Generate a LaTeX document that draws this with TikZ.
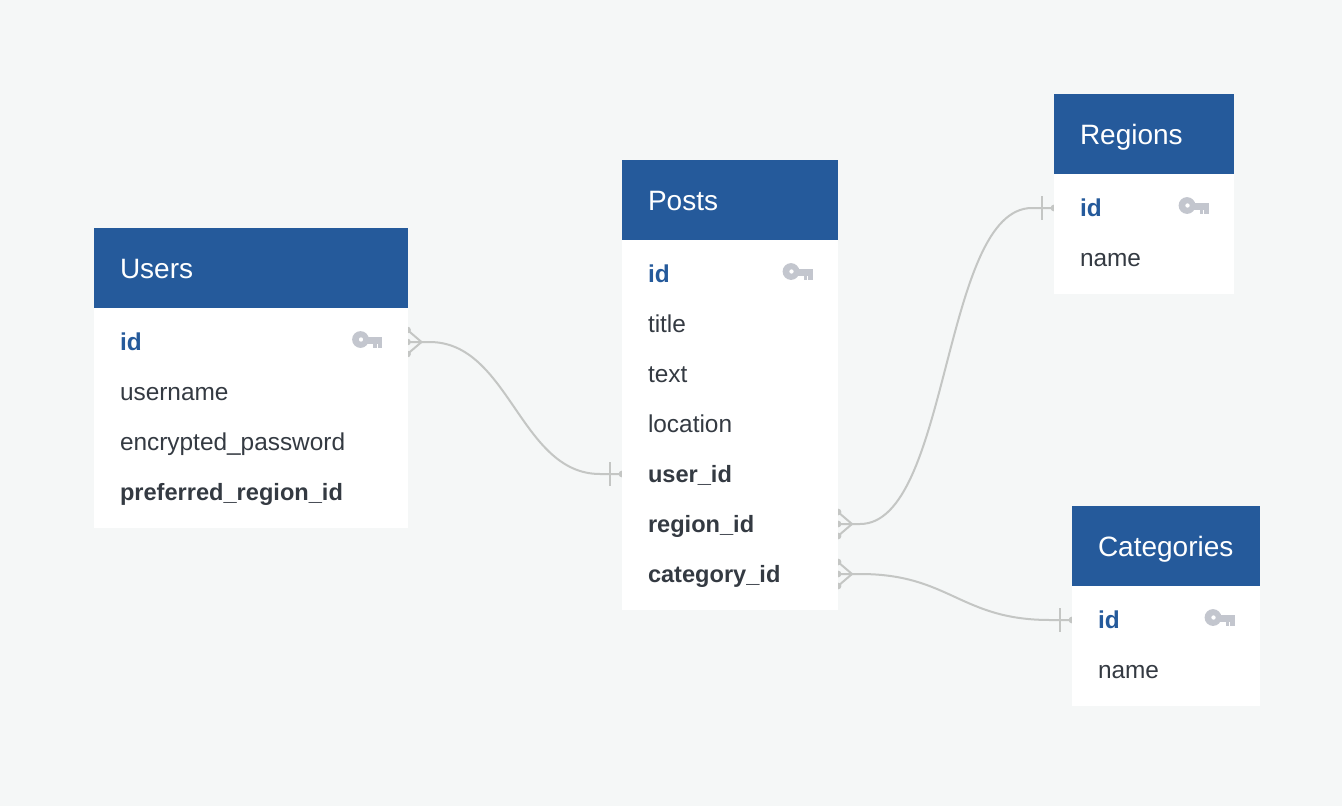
\documentclass[tikz,border=0pt]{standalone}
\usepackage{fontspec}
\setmainfont{Liberation Sans}
\usetikzlibrary{positioning,calc,backgrounds}
\definecolor{pagegrey}{HTML}{F5F7F7}
\definecolor{headblue}{HTML}{255A9B}
\definecolor{fielddark}{HTML}{343A42}
\definecolor{keygrey}{HTML}{C3C6CE}
\definecolor{linegrey}{HTML}{C4C6C4}
\tikzset{
  tablehead/.style={anchor=north west, fill=headblue, text=white, font=\fontsize{28}{30}\selectfont,
    text width=#1pt-52pt, align=left, inner xsep=26pt, inner ysep=0pt, outer sep=0pt,
    text height=50pt, text depth=30pt},
  tablebody/.style={fill=white, inner sep=0pt, outer sep=0pt, minimum height=#1},
  fieldrow/.style={text=fielddark, font=\fontsize{24.4}{26}\selectfont,
    text width=#1pt-52pt, align=left, inner xsep=26pt, inner ysep=0pt, outer sep=0pt,
    text height=33pt, text depth=17pt},
  keyrow/.style={fieldrow=#1, text=headblue, font=\fontsize{24.4}{26}\selectfont\bfseries},
  linkrow/.style={fieldrow=#1, font=\fontsize{23.6}{26}\selectfont\bfseries},
  relation/.style={draw=linegrey, line width=2pt},
  keyicon/.pic={
    \fill[keygrey, even odd rule] (-47,-2.5) circle (8.4pt) (-46.5,-2.5) circle (2.3pt);
    \fill[keygrey] (-44,-5.5) rectangle (-25.5,1.5);
    \fill[keygrey] (-34.5,1) rectangle (-31,6);
    \fill[keygrey] (-30,1) rectangle (-25.5,6);
  },
  crowfoot/.pic={
    \draw[relation] (0,-12) -- (14,0) -- (0,12);
    \fill[linegrey] (0,-12) circle (3.4pt) (0,0) circle (3.4pt) (0,12) circle (3.4pt);
  },
  onebar/.pic={
    \draw[relation] (-12,-12) -- (-12,12);
    \fill[linegrey] (0,0) circle (3.4pt);
  },
}
\begin{document}
\begin{tikzpicture}[x=1pt,y=-1pt]
  \useasboundingbox (0,0) rectangle (1342,806);
  \begin{scope}[on background layer]
    \fill[pagegrey] (0,0) rectangle (1342,806);
  \end{scope}

  % Users
  \node[tablehead=313.5] (usershead) at (94,228) {Users};
  \node[tablebody=220pt, minimum width=313.5pt, below=0pt of usershead] (usersbody) {};
  \node[keyrow=313.5, below=9pt of usershead] (usersid) {id};
  \node[fieldrow=313.5, below=0pt of usersid] (usersname) {username};
  \node[fieldrow=313.5, below=0pt of usersname] (userspass) {encrypted\_password};
  \node[linkrow=313.5, below=0pt of userspass] (usersregion) {preferred\_region\_id};
  \pic at (usersid.east) {keyicon};

  % Posts
  \node[tablehead=216] (postshead) at (622,160) {Posts};
  \node[tablebody=370pt, minimum width=216pt, below=0pt of postshead] (postsbody) {};
  \node[keyrow=216, below=9pt of postshead] (postsid) {id};
  \node[fieldrow=216, below=0pt of postsid] (poststitle) {title};
  \node[fieldrow=216, below=0pt of poststitle] (poststext) {text};
  \node[fieldrow=216, below=0pt of poststext] (postslocation) {location};
  \node[linkrow=216, below=0pt of postslocation] (postsuser) {user\_id};
  \node[linkrow=216, below=0pt of postsuser] (postsregion) {region\_id};
  \node[linkrow=216, below=0pt of postsregion] (postscategory) {category\_id};
  \pic at (postsid.east) {keyicon};

  % Regions
  \node[tablehead=180] (regionshead) at (1054,94) {Regions};
  \node[tablebody=120pt, minimum width=180pt, below=0pt of regionshead] (regionsbody) {};
  \node[keyrow=180, below=9pt of regionshead] (regionsid) {id};
  \node[fieldrow=180, below=0pt of regionsid] (regionsname) {name};
  \pic at (regionsid.east) {keyicon};

  % Categories
  \node[tablehead=188] (categorieshead) at (1072,506) {Categories};
  \node[tablebody=120pt, minimum width=188pt, below=0pt of categorieshead] (categoriesbody) {};
  \node[keyrow=188, below=9pt of categorieshead] (categoriesid) {id};
  \node[fieldrow=188, below=0pt of categoriesid] (categoriesname) {name};
  \pic at (categoriesid.east) {keyicon};

  % Relations
  \begin{scope}[on background layer]
    \draw[relation] (usersid.east) -- ++(22,0) .. controls +(80,0) and +(-80,0) .. ($(postsuser.west)+(-22,0)$) -- (postsuser.west);
    \draw[relation] (postsregion.east) -- ++(22,0) .. controls +(90,0) and +(-90,0) .. ($(regionsid.west)+(-22,0)$) -- (regionsid.west);
    \draw[relation] (postscategory.east) -- ++(22,0) .. controls +(90,0) and +(-90,0) .. ($(categoriesid.west)+(-22,0)$) -- (categoriesid.west);
    \pic at (usersid.east) {crowfoot};
    \pic at (postsregion.east) {crowfoot};
    \pic at (postscategory.east) {crowfoot};
    \pic at (postsuser.west) {onebar};
    \pic at (regionsid.west) {onebar};
    \pic at (categoriesid.west) {onebar};
  \end{scope}
\end{tikzpicture}
\end{document}
